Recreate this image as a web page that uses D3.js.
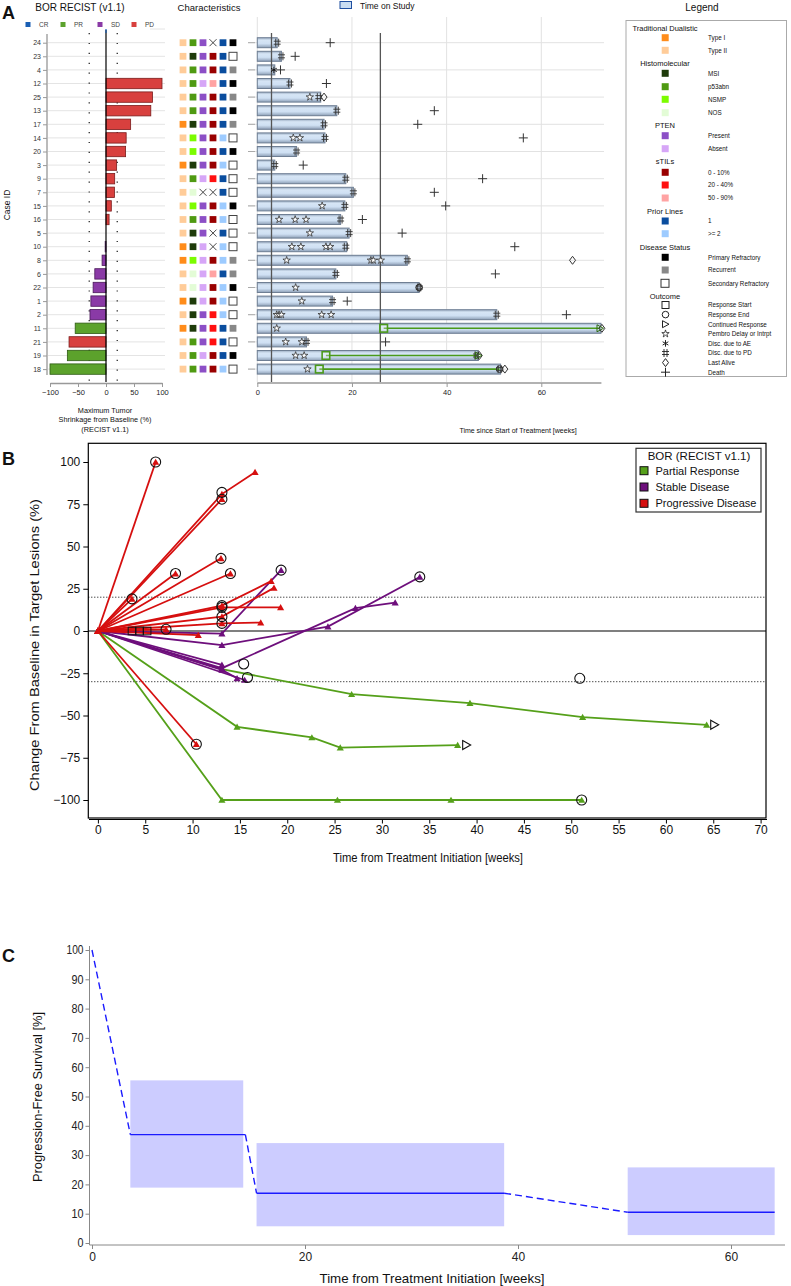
<!DOCTYPE html>
<html>
<head>
<meta charset="utf-8">
<script src="https://cdn.jsdelivr.net/npm/d3@7"></script>
<style>
  body { margin: 0; background: #fff; }
  svg { display: block; }
  text { font-family: "Liberation Sans", Arial, sans-serif; fill: #111; }
</style>
</head>
<body>
<div id="chart"></div>
<script>
// ---------------- data: panel A ----------------
const caseIds = ["24","23","4","12","25","13","17","14","20","3","9","7","15","16","5","10","8","6","22","1","2","11","21","19","18"];
const borCat = ["PD","PD","PD","PD","PD","PD","PD","PD","PD","PD","PD","PD","PD","PD","SD","SD","SD","SD","SD","SD","SD","PR","PD","PR","PR"];
const maxChange = [null,null,null,100,83,80,44,36,35,19,15.5,15,9.5,5.5,null,-1.5,-7,-20,-23,-27,-28.6,-55,-66,-69,-100];

const tradDual = ["II","II","II","II","II","II","I","II","II","I","II","II","II","II","II","I","I","II","II","I","II","I","II","II","II"];
const histo = ["p53abn","MSI","p53abn","p53abn","p53abn","p53abn","MSI","NSMP","NSMP","MSI","p53abn","NOS","NSMP","p53abn","MSI","MSI","NSMP","NOS","NOS","MSI","MSI","MSI","p53abn","p53abn","p53abn"];
const pten = ["Present","Present","Present","Absent","Present","Present","Present","Present","Present","Present","Absent",null,"Present","Present","Present","Absent","Absent","Absent","Absent","Absent","Present","Present","Present","Absent","Present"];
const stils = [null,"0 - 10%","0 - 10%","50 - 90%","0 - 10%","0 - 10%","0 - 10%","0 - 10%","0 - 10%","0 - 10%","20 - 40%",null,"0 - 10%","0 - 10%",null,null,"0 - 10%","50 - 90%","0 - 10%","0 - 10%","20 - 40%","20 - 40%","20 - 40%","0 - 10%","0 - 10%"];
const priorLines = ["1","1","1","1","1","1","1",">= 2","1",">= 2","1","1",">= 2",">= 2","1",">= 2",">= 2","1",">= 2",">= 2",">= 2","1","1","1",">= 2"];
const diseaseStatus = ["Primary Refractory","Secondary Refractory","Recurrent","Primary Refractory","Recurrent","Primary Refractory","Recurrent","Secondary Refractory","Primary Refractory","Secondary Refractory","Secondary Refractory","Secondary Refractory","Primary Refractory","Secondary Refractory","Secondary Refractory","Secondary Refractory","Recurrent","Recurrent","Primary Refractory","Secondary Refractory","Secondary Refractory","Recurrent","Secondary Refractory","Primary Refractory","Secondary Refractory"];

const timeOnStudy = [4.2,5.1,3.7,6.9,13.4,16.8,14.1,14.3,8.3,3.7,18.7,20.3,18.5,17.6,19.4,18.9,31.7,16.6,34.2,15.9,50.6,72.6,10.4,46.7,51.4];

// swimmer events: [case, week]
const evPembroDelay = [["25",11.1],["14",7.6],["14",9.0],["15",13.7],["16",4.6],["16",8.0],["16",10.3],["5",11.1],["10",7.3],["10",9.2],["10",14.5],["10",15.4],["8",6.2],["8",24.0],["8",24.5],["8",26.1],["22",8.1],["1",9.4],["2",4.1],["2",4.6],["2",5.1],["2",13.6],["2",15.6],["11",4.1],["21",6.0],["21",9.4],["19",8.1],["19",9.9],["18",10.6]];
const evDiscPD = [["24",4.2],["23",5.1],["12",6.9],["25",13.0],["13",16.8],["17",14.1],["14",14.3],["20",8.3],["3",3.7],["9",18.7],["7",20.3],["15",18.5],["16",17.6],["5",19.4],["10",18.7],["8",31.7],["6",16.6],["22",34.2],["1",15.9],["2",50.6],["21",10.4],["19",46.3],["18",51.2]];
const evDiscAE = [["4",3.5]];
const evDeath = [["24",15.4],["23",8.0],["4",4.9],["12",14.6],["13",37.4],["17",33.9],["14",56.2],["3",9.7],["9",47.6],["7",37.4],["15",39.8],["16",22.2],["5",30.6],["10",54.4],["6",50.3],["1",19.0],["2",65.3],["21",27.1]];
const evLastAlive = [["25",14.1],["8",66.6],["22",34.2],["11",72.8],["19",46.9],["18",52.3]];
const evRespStart = [["11",26.7],["19",14.5],["18",13.1]];
const evRespEnd = [["22",34.2],["18",51.2]];
const evContResp = [["11",72.4],["19",46.7]];
const refWeeks = [3, 26];

// ---------------- data: panel B ----------------
const spiderBor = ["PD","PD","PD","PD","PD","PD","PD","PD","PD","PD","PD","PD","PD","PD","SD","SD","SD","SD","SD","SD","PR","PR","PR"];
const spiderWeeks = [[0,6.1],[0,13.1,16.6],[0,13.1],[0,13.0],[0,14.0],[0,8.2],[0,3.6],[0,13.1,18.3],[0,13.1,19.3],[0,13.1,18.6],[0,13.1,17.2],[0,10.6],[0,7.2],[0,10.4],
  [0,13.1,19.35],[0,13.1,24.3,34.0],[0,13.1,27.2,31.4],[0,13.1],[0,13.1,14.7],[0,15.5],
  [0,13.1,26.8,39.3,51.2,64.3],[0,14.7,22.6,25.6,38.0],[0,13.1,25.3,37.3,51.1]];
const spiderPct = [[0,100],[0,81,94],[0,78],[0,43],[0,34],[0,34],[0,19],[0,15,29.5],[0,14,14],[0,8.5,25.5],[0,4.5,5],[0,-2.4],[0,1],[0,-67],
  [0,-1.5,36],[0,-8.3,2.6,32],[0,-22,13.5,16.8],[0,-20],[0,-23,-28],[0,-29],
  [0,-22.6,-37.4,-42.7,-51,-55.5],[0,-56.7,-63,-69,-67.5],[0,-100,-100,-100,-100]];
const circleWeeks = [6.1,13.1,13.1,13.0,14.0,8.2,3.6,13.1,13.1,13.1,13.1,7.2,10.4,19.35,34.0,15.4,15.8,50.9,51.1];
const circlePct = [100,82,78,43,34,34,19,15,14,8.5,4.5,1,-67,36,32,-19.5,-27.5,-28,-100];
const squareWeeks = [3.6,4.4,5.2];
const arrowWeeks = [65.1,38.9];
const arrowPct = [-55.5,-67.5];

// ---------------- data: panel C ----------------
const kmStart = [3.6,15.45,50.3];
const kmEnd = [14.4,38.7,64.1];
const kmSurv = [37,17,10.5];
const ciLow = [18.9,5.7,2.7];
const ciHigh = [55.5,34.1,25.8];
const ciEnd = [14.2,38.7,64.1];

// ---------------- colours ----------------
const borColor = {CR:"#1a5fb4", PR:"#5ca22c", SD:"#8a3aa6", PD:"#d8403e"};
const borStroke = {CR:"#0d3a70", PR:"#2e5a14", SD:"#4a1a5a", PD:"#7a1c1c"};
const spiderColor = {PR:"#55a01a", SD:"#6e0f7c", PD:"#d60f0f"};
const tdColor = {"I":"#ff8c1a","II":"#ffcc99"};
const histoColor = {MSI:"#1e3b0a", p53abn:"#4f9a12", NSMP:"#7cfc00", NOS:"#e3fcd6"};
const ptenColor = {Present:"#8c4fc6", Absent:"#d6a6f7"};
const stilColor = {"0 - 10%":"#990000","20 - 40%":"#ff1010","50 - 90%":"#ffa3a3"};
const priorColor = {"1":"#0a4d9e", ">= 2":"#9dcbff"};
const statusColor = {"Primary Refractory":"#000","Recurrent":"#888","Secondary Refractory":"#fff"};

const W = 791, H = 1286;
const svg = d3.select("#chart").append("svg").attr("width", W).attr("height", H);

const defs = svg.append("defs");
const grad = defs.append("linearGradient").attr("id","barGrad").attr("x1",0).attr("y1",0).attr("x2",0).attr("y2",1);
[["0%","#9aabc0"],["25%","#d6e5f5"],["60%","#cfe0f3"],["100%","#8d9fb6"]].forEach(s => grad.append("stop").attr("offset",s[0]).attr("stop-color",s[1]));

// marker glyphs used in the swimmer plot and its legend
function marker(g, type, x, y, col) {
  col = col || "#333";
  const s = g.append("g").attr("transform", "translate(" + x + "," + y + ")");
  if (type === "start") {
    s.append("rect").attr("x",-3.5).attr("y",-3.5).attr("width",7).attr("height",7).attr("fill","none").attr("stroke",col).attr("stroke-width",1);
  } else if (type === "end") {
    s.append("circle").attr("r",3.3).attr("fill","none").attr("stroke",col);
  } else if (type === "cont") {
    s.append("path").attr("d","M-3,-3.5L3.5,0L-3,3.5Z").attr("fill","none").attr("stroke",col);
  } else if (type === "star") {
    s.append("path").attr("d", d3.symbol(d3.symbolStar).size(17)()).attr("fill","#fff").attr("stroke",col).attr("stroke-width",0.8);
  } else if (type === "ae") {
    s.append("path").attr("d", d3.symbol(d3.symbolAsterisk).size(30)()).attr("fill","none").attr("stroke",col).attr("stroke-width",1);
  } else if (type === "pd") {
    s.append("path").attr("d","M-1.5,-4V4M1.5,-4V4M-3.5,-1.5H3.5M-3.5,1.5H3.5").attr("stroke",col).attr("stroke-width",0.9);
  } else if (type === "alive") {
    s.append("path").attr("d","M0,-4L3,0L0,4L-3,0Z").attr("fill","none").attr("stroke",col);
  } else if (type === "death") {
    s.append("path").attr("d","M0,-4.5V4.5M-4.5,0H4.5").attr("stroke",col).attr("stroke-width",1);
  }
  return s;
}

// ================= PANEL A =================
const rowY = d3.scalePoint().domain(caseIds).range([42.7, 369.1]);
const pA = svg.append("g").attr("class","panelA");

pA.append("text").attr("x",2).attr("y",19).style("font-size","18px").style("font-weight","bold").text("A");

// ---- waterfall ----
const wfX = d3.scaleLinear().domain([-100,100]).range([50,162]);
pA.append("text").attr("x",80).attr("y",11).attr("text-anchor","middle").style("font-size","10px").text("BOR RECIST (v1.1)");
const wfLegend = [["CR",28],["PR",63],["SD",100],["PD",134]];
wfLegend.forEach(d => {
  pA.append("rect").attr("x",d[1]-2.5).attr("y",22).attr("width",5).attr("height",5).attr("fill",borColor[d[0]]);
  pA.append("text").attr("x",d[1]+11).attr("y",27).style("font-size","6.5px").style("fill","#444").text(d[0]);
});

pA.selectAll(".wfGrid").data(caseIds).join("line").attr("class","wfGrid")
  .attr("x1",48).attr("x2",165).attr("y1",d => rowY(d)).attr("y2",d => rowY(d))
  .attr("stroke","#e4e4e4").attr("stroke-width",1);
pA.append("line").attr("x1",150).attr("x2",165).attr("y1",29).attr("y2",29).attr("stroke","#e4e4e4");

[-30,20].forEach(v => pA.append("line").attr("x1",wfX(v)).attr("x2",wfX(v)).attr("y1",33).attr("y2",381)
  .attr("stroke","#000").attr("stroke-width",1.1).attr("stroke-dasharray","1.2,8.7"));

const wfData = caseIds.map((id,i) => ({id, v: maxChange[i], c: borCat[i]})).filter(d => d.v !== null);
pA.selectAll(".wfBar").data(wfData).join("rect").attr("class","wfBar")
  .attr("x",d => wfX(Math.min(0,d.v))).attr("width",d => Math.abs(wfX(d.v)-wfX(0)))
  .attr("y",d => rowY(d.id)-5.2).attr("height",10.4)
  .attr("fill",d => borColor[d.c]).attr("stroke",d => borStroke[d.c]).attr("stroke-width",0.8);

pA.append("line").attr("x1",wfX(0)).attr("x2",wfX(0)).attr("y1",30).attr("y2",382).attr("stroke","#000").attr("stroke-width",1.2);
pA.append("line").attr("x1",wfX(0)).attr("x2",wfX(0)).attr("y1",29).attr("y2",33).attr("stroke",borColor.CR).attr("stroke-width",1.2);

const wfYAxis = pA.append("g").attr("transform","translate(47,0)")
  .call(d3.axisLeft(rowY).tickSize(4).tickPadding(2).tickSizeOuter(0));
wfYAxis.select(".domain").attr("stroke","#bbb").attr("stroke-width",2).attr("d","M0,34V375");
wfYAxis.selectAll(".tick line").attr("stroke","#999");
wfYAxis.selectAll(".tick text").style("font-size","7px").style("fill","#333").style("font-family","Liberation Sans, Arial");

const wfXAxis = pA.append("g").attr("transform","translate(0,383)")
  .call(d3.axisBottom(wfX).tickValues([-100,-50,0,50,100]).tickSize(4).tickSizeOuter(0));
wfXAxis.select(".domain").attr("stroke","#999").attr("stroke-width",1.5);
wfXAxis.selectAll(".tick line").attr("stroke","#999");
wfXAxis.selectAll(".tick text").style("font-size","7.5px").style("fill","#222").style("font-family","Liberation Sans, Arial");

pA.append("text").attr("transform","translate(10,205) rotate(-90)").attr("text-anchor","middle").style("font-size","8.5px").text("Case ID");
["Maximum Tumor","Shrinkage from Baseline (%)","(RECIST v1.1)"].forEach((t,i) =>
  pA.append("text").attr("x",105).attr("y",413 + i*9.3).attr("text-anchor","middle").style("font-size","7.3px").text(t));

// ---- characteristics ----
pA.append("text").attr("x",209).attr("y",11).attr("text-anchor","middle").style("font-size","9.5px").text("Characteristics");
const charCols = [
  {x:183, vals:tradDual, col:tdColor},
  {x:193, vals:histo, col:histoColor},
  {x:203, vals:pten, col:ptenColor},
  {x:213, vals:stils, col:stilColor},
  {x:223, vals:priorLines, col:priorColor},
  {x:233, vals:diseaseStatus, col:statusColor}
];
charCols.forEach((cc) => {
  caseIds.forEach((id, i) => {
    const v = cc.vals[i], y = rowY(id);
    if (v === null) {
      pA.append("path").attr("d",`M${cc.x-3.5},${y-3.5}L${cc.x+3.5},${y+3.5}M${cc.x-3.5},${y+3.5}L${cc.x+3.5},${y-3.5}`)
        .attr("stroke","#333").attr("stroke-width",0.9);
    } else if (v === "Secondary Refractory") {
      pA.append("rect").attr("x",cc.x-4).attr("y",y-4).attr("width",8).attr("height",8).attr("fill","#fff").attr("stroke","#444").attr("stroke-width",1);
    } else {
      pA.append("rect").attr("x",cc.x-3.4).attr("y",y-3.4).attr("width",6.8).attr("height",6.8).attr("fill",cc.col[v]);
    }
  });
});

// ---- swimmer ----
const swX = d3.scaleLinear().domain([0,60]).range([257.3,541.3]);
pA.append("rect").attr("x",340).attr("y",1.5).attr("width",11.5).attr("height",7).attr("fill","#c9ddf2").attr("stroke","#1f4fa0").attr("stroke-width",1);
pA.append("text").attr("x",360).attr("y",9).style("font-size","8.5px").text("Time on Study");

[0,20,40,60].forEach(v => pA.append("line").attr("x1",swX(v)).attr("x2",swX(v)).attr("y1",17).attr("y2",382).attr("stroke","#e2e2e2"));
pA.selectAll(".swGrid").data(caseIds.filter((d,i) => i % 2 === 0)).join("line").attr("class","swGrid")
  .attr("x1",248).attr("x2",604).attr("y1",d => rowY(d)).attr("y2",d => rowY(d)).attr("stroke","#e2e2e2");
pA.selectAll(".swTick").data(caseIds.filter((d,i) => i % 2 === 0)).join("line").attr("class","swTick")
  .attr("x1",248).attr("x2",255).attr("y1",d => rowY(d)).attr("y2",d => rowY(d)).attr("stroke","#aaa");

const swData = caseIds.map((id,i) => ({id, t: timeOnStudy[i]}));
pA.selectAll(".swBar").data(swData).join("rect").attr("class","swBar")
  .attr("x",swX(0)).attr("width",d => swX(d.t)-swX(0))
  .attr("y",d => rowY(d.id)-5).attr("height",10)
  .attr("fill","url(#barGrad)").attr("stroke","#6f7f94").attr("stroke-width",1);

refWeeks.forEach(w => pA.append("line").attr("x1",swX(w)).attr("x2",swX(w)).attr("y1",33).attr("y2",382).attr("stroke","#555").attr("stroke-width",1.3));

// response duration lines
evRespStart.forEach((d) => {
  const endEv = evContResp.find(e => e[0] === d[0]) || evRespEnd.find(e => e[0] === d[0]);
  pA.append("line").attr("x1",swX(d[1])).attr("x2",swX(endEv[1])).attr("y1",rowY(d[0])).attr("y2",rowY(d[0]))
    .attr("stroke","#4a9a1a").attr("stroke-width",1.6);
});
evPembroDelay.forEach(d => marker(pA,"star",swX(d[1]),rowY(d[0])));
evDiscPD.forEach(d => marker(pA,"pd",swX(d[1]),rowY(d[0])));
evDiscAE.forEach(d => marker(pA,"ae",swX(d[1]),rowY(d[0]),"#111"));
evDeath.forEach(d => marker(pA,"death",swX(d[1]),rowY(d[0])));
evLastAlive.forEach(d => marker(pA,"alive",swX(d[1]),rowY(d[0])));
evRespEnd.forEach(d => marker(pA,"end",swX(d[1]),rowY(d[0])));
evRespStart.forEach(d => {
  pA.append("rect").attr("x",swX(d[1])-3.8).attr("y",rowY(d[0])-3.8).attr("width",7.6).attr("height",7.6)
    .attr("fill","#fff").attr("fill-opacity",0.3).attr("stroke","#4a9a1a").attr("stroke-width",1.6);
});
evContResp.forEach(d => marker(pA,"cont",swX(d[1]),rowY(d[0]),"#2f6a10"));

const swXAxis = pA.append("g").attr("transform","translate(0,383)")
  .call(d3.axisBottom(swX).tickValues([0,20,40,60]).tickSize(4).tickSizeOuter(0));
swXAxis.select(".domain").attr("stroke","#999").attr("stroke-width",1.5).attr("d","M" + swX(0) + ",0H" + swX(72.7));
swXAxis.selectAll(".tick line").attr("stroke","#999");
swXAxis.selectAll(".tick text").style("font-size","7.5px").style("fill","#222").style("font-family","Liberation Sans, Arial");
pA.append("text").attr("x",518).attr("y",433).attr("text-anchor","middle").style("font-size","7px").text("Time since Start of Treatment [weeks]");

// ---- legend ----
pA.append("text").attr("x",702).attr("y",11).attr("text-anchor","middle").style("font-size","10px").text("Legend");
pA.append("rect").attr("x",626).attr("y",20.5).attr("width",160.5).attr("height",356).attr("fill","#fff").attr("stroke","#aaa").attr("stroke-width",1);
const legendGroups = [
  {title:"Traditional Dualistic", y:28, items:Object.keys(tdColor).map(k => ["Type " + k, tdColor[k]]), ys:[37.7,50.3]},
  {title:"Histomolecular", y:63, items:Object.keys(histoColor).map(k => [k, histoColor[k]]), ys:[73.3,86.7,99.3,112.7]},
  {title:"PTEN", y:125, items:Object.keys(ptenColor).map(k => [k, ptenColor[k]]), ys:[135.7,148.7]},
  {title:"sTILs", y:161, items:Object.keys(stilColor).map(k => [k, stilColor[k]]), ys:[172.3,185,198]},
  {title:"Prior Lines", y:210.7, items:Object.keys(priorColor).map(k => [k, priorColor[k]]), ys:[221,233.7]},
  {title:"Disease Status", y:246.7, items:Object.keys(statusColor).map(k => [k, statusColor[k]]), ys:[257.3,270,283.3]}
];
legendGroups.forEach(gr => {
  pA.append("text").attr("x",665).attr("y",gr.y + 3).attr("text-anchor","middle").style("font-size","7.5px").text(gr.title);
  gr.items.forEach((it, k) => {
    const y = gr.ys[k];
    if (it[0] === "Secondary Refractory") {
      pA.append("rect").attr("x",661).attr("y",y-4).attr("width",8).attr("height",8).attr("fill","#fff").attr("stroke","#333").attr("stroke-width",1);
    } else {
      pA.append("rect").attr("x",661.7).attr("y",y-3.5).attr("width",7).attr("height",7).attr("fill",it[1]);
    }
    pA.append("text").attr("x",708).attr("y",y + 2.3).style("font-size","6.3px").text(it[0]);
  });
});
pA.append("text").attr("x",665).attr("y",299).attr("text-anchor","middle").style("font-size","7.5px").text("Outcome");
const outcomeLabels = ["Response Start","Response End","Continued Response","Pembro Delay or Intrpt","Disc. due to AE","Disc. due to PD","Last Alive","Death"];
const outcomeTypes = ["start","end","cont","star","ae","pd","alive","death"];
outcomeLabels.forEach((lab, k) => {
  const y = 305 + k * 9.6;
  marker(pA, outcomeTypes[k], 665.5, y, "#222");
  pA.append("text").attr("x",708).attr("y",y + 2.3).style("font-size","6.3px").text(lab);
});

// ================= PANEL B =================
const bX = d3.scaleLinear().domain([0,70]).range([97.9,760.6]);
const bY = d3.scaleLinear().domain([-100,100]).range([800,462]);
const pB = svg.append("g").attr("class","panelB");
pB.append("text").attr("x",2).attr("y",465).style("font-size","18px").style("font-weight","bold").text("B");

pB.append("rect").attr("x",88.3).attr("y",443.3).attr("width",677.7).attr("height",374.7).attr("fill","none").attr("stroke","#000").attr("stroke-width",1.2);
pB.append("line").attr("x1",88.3).attr("x2",766).attr("y1",bY(0)).attr("y2",bY(0)).attr("stroke","#000").attr("stroke-width",1.2);
[20,-30].forEach(v => pB.append("line").attr("x1",88.3).attr("x2",766).attr("y1",bY(v)).attr("y2",bY(v))
  .attr("stroke","#000").attr("stroke-width",1).attr("stroke-dasharray","1,2"));

const bYAxis = pB.append("g").attr("transform","translate(88.3,0)")
  .call(d3.axisLeft(bY).tickValues(d3.range(-100,101,25)).tickSize(5).tickPadding(3).tickSizeOuter(0));
bYAxis.select(".domain").remove();
bYAxis.selectAll(".tick text").style("font-size","12px").style("font-family","Liberation Sans, Arial").style("fill","#111");

const bXAxis = pB.append("g").attr("transform","translate(0,819.5)")
  .call(d3.axisBottom(bX).tickValues(d3.range(0,71,5)).tickSize(4).tickPadding(2).tickSizeOuter(0));
bXAxis.select(".domain").attr("d","M89,0H767").attr("stroke","#000");
bXAxis.selectAll(".tick text").style("font-size","12px").style("font-family","Liberation Sans, Arial").style("fill","#111");

pB.append("text").attr("transform","translate(39,645) rotate(-90)").attr("text-anchor","middle")
  .attr("textLength",292).attr("lengthAdjust","spacingAndGlyphs").style("font-size","13px").text("Change From Baseline in Target Lesions (%)");
pB.append("text").attr("x",428).attr("y",862).attr("text-anchor","middle")
  .attr("textLength",190).attr("lengthAdjust","spacingAndGlyphs").style("font-size","13px").text("Time from Treatment Initiation [weeks]");

const bLine = d3.line().x(d => bX(d[0])).y(d => bY(d[1]));
const spiderData = spiderBor.map((c,i) => ({c, pts: spiderWeeks[i].map((w,k) => [w, spiderPct[i][k]])}));
// draw green first, then purple, then red on top
["PR","SD","PD"].forEach(cat => {
  spiderData.filter(d => d.c === cat).forEach(d => {
    pB.append("path").attr("d", bLine(d.pts)).attr("fill","none").attr("stroke",spiderColor[cat]).attr("stroke-width",1.8);
    d.pts.forEach(p => pB.append("path").attr("transform","translate(" + bX(p[0]) + "," + (bY(p[1]) + 0.8) + ")")
      .attr("d", d3.symbol(d3.symbolTriangle).size(22)()).attr("fill",spiderColor[cat]));
  });
});
circleWeeks.forEach((w,i) => pB.append("circle").attr("cx",bX(w)).attr("cy",bY(circlePct[i])).attr("r",5)
  .attr("fill","none").attr("stroke","#111").attr("stroke-width",1.1));
squareWeeks.forEach(w => pB.append("rect").attr("x",bX(w)-3.8).attr("y",bY(0)-3.8).attr("width",7.6).attr("height",7.6)
  .attr("fill","none").attr("stroke","#111").attr("stroke-width",1));
arrowWeeks.forEach((w,i) => pB.append("path").attr("transform","translate(" + bX(w) + "," + bY(arrowPct[i]) + ")")
  .attr("d","M-3.5,-4.5L4.5,0L-3.5,4.5Z").attr("fill","#fff").attr("stroke","#111").attr("stroke-width",1.1));

// legend
const bLeg = pB.append("g");
bLeg.append("rect").attr("x",636).attr("y",448.3).attr("width",125).attr("height",63.7).attr("fill","#fff").attr("stroke","#333").attr("stroke-width",1.2);
bLeg.append("text").attr("x",699).attr("y",460).attr("text-anchor","middle").style("font-size","11.5px").text("BOR (RECIST v1.1)");
const bLegItems = [["Partial Response","PR"],["Stable Disease","SD"],["Progressive Disease","PD"]];
bLegItems.forEach((it,k) => {
  const y = 470.7 + k * 16.3;
  bLeg.append("rect").attr("x",640).attr("y",y-4).attr("width",8).attr("height",8).attr("fill",spiderColor[it[1]]).attr("stroke","#111").attr("stroke-width",1);
  bLeg.append("text").attr("x",655.5).attr("y",y + 4).style("font-size","11px").text(it[0]);
});

// ================= PANEL C =================
const cX = d3.scaleLinear().domain([0,60]).range([92,731]);
const cY = d3.scaleLinear().domain([0,100]).range([1243,950]);
const pC = svg.append("g").attr("class","panelC");
pC.append("text").attr("x",2).attr("y",962).style("font-size","18px").style("font-weight","bold").text("C");

kmStart.forEach((s,i) => pC.append("rect").attr("x",cX(s)).attr("width",cX(ciEnd[i])-cX(s))
  .attr("y",cY(ciHigh[i])).attr("height",cY(ciLow[i])-cY(ciHigh[i])).attr("fill","#ccccff"));

const solidSegs = kmStart.map((s,i) => [[s,kmSurv[i]],[kmEnd[i],kmSurv[i]]]);
const dashSegs = kmStart.map((s,i) => i === 0 ? [[0,100],[s,kmSurv[i]]] : [[kmEnd[i-1],kmSurv[i-1]],[s,kmSurv[i]]]);
const cLine = d3.line().x(d => cX(d[0])).y(d => cY(d[1]));
solidSegs.forEach(seg => pC.append("path").attr("d",cLine(seg)).attr("fill","none").attr("stroke","#1a1aff").attr("stroke-width",1.4));
dashSegs.forEach(seg => pC.append("path").attr("d",cLine(seg)).attr("fill","none").attr("stroke","#1a1aff").attr("stroke-width",1.4).attr("stroke-dasharray","7,4"));

const cYAxis = pC.append("g").attr("transform","translate(89.5,0)")
  .call(d3.axisLeft(cY).tickValues(d3.range(0,101,10)).tickSize(4).tickPadding(2).tickSizeOuter(0));
cYAxis.select(".domain").attr("d","M0,946V1245").attr("stroke","#888");
cYAxis.selectAll(".tick line").attr("stroke","#888");
cYAxis.selectAll(".tick text").style("font-size","12px").style("font-family","Liberation Sans, Arial").style("fill","#222")
  .attr("textLength", d => d === 100 ? 17 : (d === 0 ? 6 : 12)).attr("lengthAdjust","spacingAndGlyphs");

const cXAxis = pC.append("g").attr("transform","translate(0,1245)")
  .call(d3.axisBottom(cX).tickValues([0,20,40,60]).tickSize(4).tickPadding(3).tickSizeOuter(0));
cXAxis.select(".domain").attr("d","M89.5,0H785").attr("stroke","#888");
cXAxis.selectAll(".tick line").attr("stroke","#888");
cXAxis.selectAll(".tick text").style("font-size","12px").style("font-family","Liberation Sans, Arial").style("fill","#222");

pC.append("text").attr("transform","translate(42,1097) rotate(-90)").attr("text-anchor","middle")
  .attr("textLength",170).attr("lengthAdjust","spacingAndGlyphs").style("font-size","12.5px").text("Progression-Free Survival [%]");
pC.append("text").attr("x",432).attr("y",1283).attr("text-anchor","middle")
  .attr("textLength",225).attr("lengthAdjust","spacingAndGlyphs").style("font-size","13px").text("Time from Treatment Initiation [weeks]");
</script>
</body>
</html>
